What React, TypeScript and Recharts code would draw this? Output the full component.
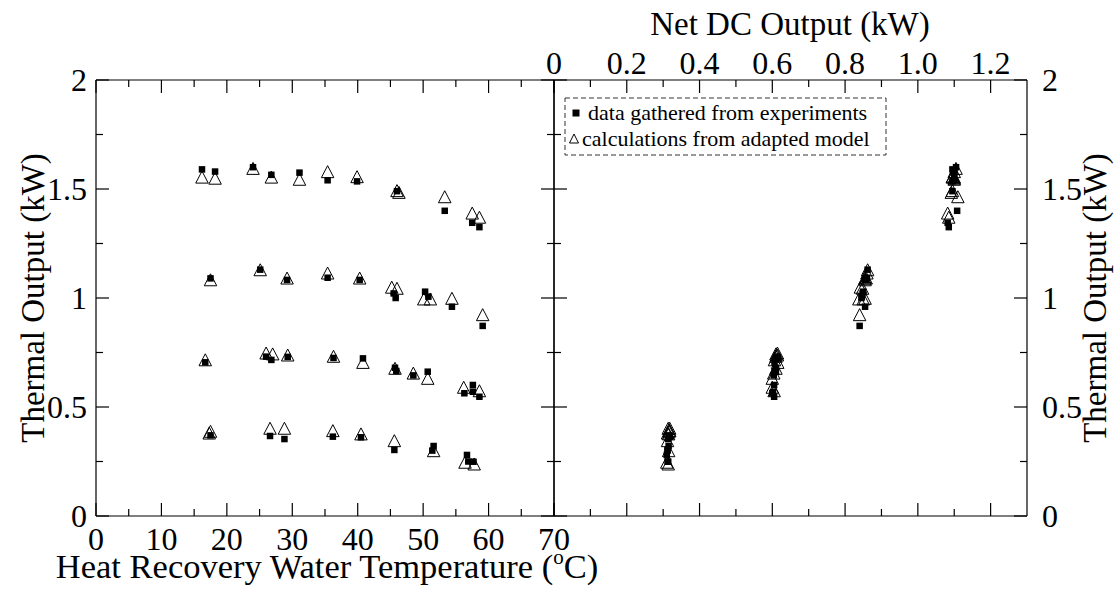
import React from 'react';
import { ScatterChart, Scatter, XAxis, YAxis, ReferenceLine, Legend } from 'recharts';

const FONT = "'Liberation Serif', Tinos, 'Times New Roman', serif";
const TEXT_STYLE = { fontFamily: FONT };

// Experimental runs: water temperature (°C), thermal output (kW), net DC output (kW)
const expTemp = [
  16.2, 18.2, 24.0, 26.8, 31.1, 35.4, 39.9, 46.0, 53.3, 57.5, 58.6,
  17.5, 25.1, 29.2, 35.4, 40.3, 45.5, 45.8, 50.3, 50.8, 54.4, 59.1,
  16.7, 26.0, 26.8, 29.3, 36.3, 40.8, 45.7, 45.9, 48.5, 50.7, 56.3, 57.6, 57.6, 58.6,
  17.5, 26.6, 28.8, 36.2, 40.5, 45.6, 51.6, 51.4, 56.7, 56.9, 57.7,
];
const expThermal = [
  1.59, 1.58, 1.6, 1.565, 1.575, 1.54, 1.535, 1.49, 1.4, 1.345, 1.325,
  1.09, 1.13, 1.083, 1.093, 1.083, 1.021, 1.0, 1.029, 1.006, 0.96, 0.872,
  0.705, 0.731, 0.716, 0.73, 0.725, 0.723, 0.68, 0.665, 0.645, 0.662, 0.563, 0.601, 0.57, 0.547,
  0.37, 0.367, 0.353, 0.364, 0.361, 0.303, 0.321, 0.3, 0.28, 0.25, 0.249,
];
const expDC = [
  1.095, 1.1, 1.105, 1.1, 1.1, 1.1, 1.095, 1.095, 1.108, 1.082, 1.085,
  0.855, 0.862, 0.858, 0.86, 0.855, 0.848, 0.845, 0.85, 0.846, 0.855, 0.84,
  0.606, 0.612, 0.608, 0.614, 0.61, 0.615, 0.61, 0.606, 0.604, 0.61, 0.6, 0.605, 0.602, 0.605,
  0.316, 0.318, 0.314, 0.318, 0.315, 0.312, 0.315, 0.312, 0.31, 0.312, 0.314,
];

// Adapted-model predictions at the same operating points
const modelTemp = [
  16.2, 18.2, 24.0, 26.8, 31.1, 35.4, 39.9, 46.0, 46.3, 53.3, 57.5, 58.6,
  17.5, 25.1, 29.2, 35.4, 40.3, 45.2, 46.0, 50.1, 51.1, 54.4, 59.1,
  16.7, 26.0, 27.0, 29.3, 36.3, 40.8, 45.7, 48.5, 50.7, 56.2, 58.6,
  17.5, 17.3, 26.6, 28.8, 36.2, 40.5, 45.6, 51.6, 56.4, 57.8,
];
const modelThermal = [
  1.55, 1.545, 1.59, 1.55, 1.54, 1.575, 1.552, 1.488, 1.48, 1.46, 1.385, 1.366,
  1.079, 1.125, 1.087, 1.11, 1.087, 1.045, 1.04, 0.991, 0.991, 0.994, 0.919,
  0.712, 0.743, 0.739, 0.734, 0.728, 0.7, 0.673, 0.651, 0.627, 0.586, 0.57,
  0.384, 0.376, 0.398, 0.398, 0.387, 0.372, 0.341, 0.295, 0.242, 0.234,
];
const modelDC = [
  1.095, 1.1, 1.105, 1.1, 1.1, 1.1, 1.095, 1.095, 1.092, 1.11, 1.082, 1.085,
  0.855, 0.862, 0.858, 0.86, 0.855, 0.842, 0.848, 0.838, 0.85, 0.855, 0.84,
  0.606, 0.614, 0.61, 0.614, 0.61, 0.615, 0.61, 0.604, 0.6, 0.6, 0.605,
  0.316, 0.312, 0.318, 0.314, 0.318, 0.315, 0.312, 0.315, 0.31, 0.314,
];

// Axis ticks
const tempMajor = [0, 10, 20, 30, 40, 50, 60, 70];
const tempLabels = ['0', '10', '20', '30', '40', '50', '60', '70'];
const tempMinor = [5, 15, 25, 35, 45, 55, 65];
const thermalMajor = [0, 0.5, 1, 1.5, 2];
const thermalLabels = ['0', '0.5', '1', '1.5', '2'];
const thermalMinor = [0.25, 0.75, 1.25, 1.75];
const dcMajor = [0, 0.2, 0.4, 0.6, 0.8, 1.0, 1.2];
const dcLabels = ['0', '0.2', '0.4', '0.6', '0.8', '1.0', '1.2'];
const dcMinor = [0.1, 0.3, 0.5, 0.7, 0.9, 1.1];

const expRows = expTemp.map((t, i) => ({ temp: t, thermal: expThermal[i], dc: expDC[i] }));
const modelRows = modelTemp.map((t, i) => ({ temp: t, thermal: modelThermal[i], dc: modelDC[i] }));

// Plot geometry
const PLOT_H = 436;
const LEFT_W = 458;
const RIGHT_W = 473;
const MAJOR = 13;
const MINOR = 7;
const TICK_FONT = 32;
const TITLE_FONT = 33;
const LINE = '#000';

const labelFor = (v: number, majors: number[], labels: string[]) => {
  const i = majors.findIndex((m) => Math.abs(m - v) < 1e-9);
  return i >= 0 ? labels[i] : null;
};

const TempTick = (props: any) => {
  const { x, y, payload } = props;
  const lab = labelFor(payload.value, tempMajor, tempLabels);
  const len = lab !== null ? MAJOR : MINOR;
  return (
    <g>
      <line x1={x} y1={y} x2={x} y2={y - len} stroke={LINE} strokeWidth={1.2} />
      <line x1={x} y1={y - PLOT_H} x2={x} y2={y - PLOT_H + len} stroke={LINE} strokeWidth={1.2} />
      {lab !== null && (
        <text x={x} y={y + 34} textAnchor="middle" style={TEXT_STYLE} fontSize={TICK_FONT} fill="#000">
          {lab}
        </text>
      )}
    </g>
  );
};

const ThermalTickLeft = (props: any) => {
  const { x, y, payload } = props;
  const lab = labelFor(payload.value, thermalMajor, thermalLabels);
  const len = lab !== null ? MAJOR : MINOR;
  return (
    <g>
      <line x1={x} y1={y} x2={x + len} y2={y} stroke={LINE} strokeWidth={1.2} />
      <line x1={x + LEFT_W} y1={y} x2={x + LEFT_W - len} y2={y} stroke={LINE} strokeWidth={1.2} />
      {lab !== null && (
        <text x={x - 9} y={y + 11} textAnchor="end" style={TEXT_STYLE} fontSize={TICK_FONT} fill="#000">
          {lab}
        </text>
      )}
    </g>
  );
};

const DcTick = (props: any) => {
  const { x, y, payload } = props;
  const lab = labelFor(payload.value, dcMajor, dcLabels);
  const len = lab !== null ? MAJOR : MINOR;
  return (
    <g>
      <line x1={x} y1={y} x2={x} y2={y + len} stroke={LINE} strokeWidth={1.2} />
      <line x1={x} y1={y + PLOT_H} x2={x} y2={y + PLOT_H - len} stroke={LINE} strokeWidth={1.2} />
      {lab !== null && (
        <text x={x} y={y - 6} textAnchor="middle" style={TEXT_STYLE} fontSize={TICK_FONT} fill="#000">
          {lab}
        </text>
      )}
    </g>
  );
};

const ThermalTickRight = (props: any) => {
  const { x, y, payload } = props;
  const lab = labelFor(payload.value, thermalMajor, thermalLabels);
  const len = lab !== null ? MAJOR : MINOR;
  return (
    <g>
      <line x1={x} y1={y} x2={x - len} y2={y} stroke={LINE} strokeWidth={1.2} />
      <line x1={x - RIGHT_W} y1={y} x2={x - RIGHT_W + len} y2={y} stroke={LINE} strokeWidth={1.2} />
      {lab !== null && (
        <text x={x + 15} y={y + 11} textAnchor="start" style={TEXT_STYLE} fontSize={TICK_FONT} fill="#000">
          {lab}
        </text>
      )}
    </g>
  );
};

const Square = (props: any) => {
  const { cx, cy } = props;
  return <rect x={cx - 3.25} y={cy - 3.25} width={6.5} height={6.5} fill="#000" />;
};

const Triangle = (props: any) => {
  const { cx, cy } = props;
  return (
    <polygon
      points={`${cx},${cy - 7} ${cx - 6.25},${cy + 5} ${cx + 6.25},${cy + 5}`}
      fill="none"
      stroke="#000"
      strokeWidth={1}
    />
  );
};

const LegendBox = () => (
  <svg width={324} height={60} style={{ display: 'block' }}>
    <rect x={1} y={1} width={321} height={57} fill="#fff" stroke="#333" strokeWidth={1} strokeDasharray="5 3" />
    <rect x={8.5} y={12.5} width={7} height={7} fill="#000" />
    <text x={24} y={23} style={TEXT_STYLE} fontSize={22} fill="#000">
      data gathered from experiments
    </text>
    <polygon points="10,37 5.5,46 14.5,46" fill="none" stroke="#000" strokeWidth={1} />
    <text x={18} y={49} style={TEXT_STYLE} fontSize={22} fill="#000">
      calculations from adapted model
    </text>
  </svg>
);

export default function App() {
  return (
    <div
      style={{
        position: 'absolute',
        left: 0,
        top: 0,
        width: 1115,
        height: 591,
        background: '#fff',
        fontFamily: FONT,
      }}
    >
      {/* Thermal output against heat recovery water temperature */}
      <div style={{ position: 'absolute', left: 0, top: 0 }}>
        <ScatterChart width={600} height={591} margin={{ top: 80, right: 46, bottom: 0, left: 0 }}>
          <XAxis
            type="number"
            dataKey="temp"
            domain={[0, 70]}
            ticks={[...tempMajor, ...tempMinor]}
            interval={0}
            height={75}
            tickSize={0}
            tickMargin={0}
            tickLine={false}
            axisLine={{ stroke: LINE, strokeWidth: 1.2 }}
            tick={(p: any) => <TempTick {...p} />}
            allowDataOverflow
            label={() => (
              <text x={327} y={578} textAnchor="middle" style={TEXT_STYLE} fontSize={34.5} fill="#000">
                Heat Recovery Water Temperature (
                <tspan dy={-14} fontSize={21}>o</tspan>
                <tspan dy={14}>C)</tspan>
              </text>
            )}
          />
          <YAxis
            type="number"
            dataKey="thermal"
            domain={[0, 2]}
            ticks={[...thermalMajor, ...thermalMinor]}
            interval={0}
            width={96}
            tickSize={0}
            tickMargin={0}
            tickLine={false}
            axisLine={{ stroke: LINE, strokeWidth: 1.2 }}
            tick={(p: any) => <ThermalTickLeft {...p} />}
            allowDataOverflow
            label={() => (
              <text
                x={44}
                y={298}
                transform="rotate(-90 44 298)"
                textAnchor="middle"
                style={TEXT_STYLE}
                fontSize={TITLE_FONT}
                fill="#000"
              >
                Thermal Output (kW)
              </text>
            )}
          />
          <ReferenceLine y={2} stroke={LINE} strokeWidth={1.2} />
          <ReferenceLine x={70} stroke={LINE} strokeWidth={1.2} />
          <Scatter data={modelRows} isAnimationActive={false} shape={(p: any) => <Triangle {...p} />} />
          <Scatter data={expRows} isAnimationActive={false} shape={(p: any) => <Square {...p} />} />
        </ScatterChart>
      </div>

      {/* Thermal output against net DC output */}
      <div style={{ position: 'absolute', left: 500, top: 0 }}>
        <ScatterChart width={615} height={591} margin={{ top: 0, right: 0, bottom: 75, left: 54 }}>
          <XAxis
            type="number"
            dataKey="dc"
            orientation="top"
            domain={[0, 1.3]}
            ticks={[...dcMajor, ...dcMinor]}
            interval={0}
            height={80}
            tickSize={0}
            tickMargin={0}
            tickLine={false}
            axisLine={{ stroke: LINE, strokeWidth: 1.2 }}
            tick={(p: any) => <DcTick {...p} />}
            allowDataOverflow
            label={() => (
              <text x={290} y={35} textAnchor="middle" style={TEXT_STYLE} fontSize={TITLE_FONT} fill="#000">
                Net DC Output (kW)
              </text>
            )}
          />
          <YAxis
            type="number"
            dataKey="thermal"
            orientation="right"
            domain={[0, 2]}
            ticks={[...thermalMajor, ...thermalMinor]}
            interval={0}
            width={88}
            tickSize={0}
            tickMargin={0}
            tickLine={false}
            axisLine={{ stroke: LINE, strokeWidth: 1.2 }}
            tick={(p: any) => <ThermalTickRight {...p} />}
            allowDataOverflow
            label={() => (
              <text
                x={606}
                y={298}
                transform="rotate(-90 606 298)"
                textAnchor="middle"
                style={TEXT_STYLE}
                fontSize={TITLE_FONT}
                fill="#000"
              >
                Thermal Output (kW)
              </text>
            )}
          />
          <ReferenceLine y={0} stroke={LINE} strokeWidth={1.2} />
          <ReferenceLine x={0} stroke={LINE} strokeWidth={1.2} />
          <Legend
            layout="horizontal"
            verticalAlign="middle"
            align="center"
            wrapperStyle={{ left: 64, top: 97, width: 324, height: 60 }}
            content={() => <LegendBox />}
          />
          <Scatter data={modelRows} isAnimationActive={false} shape={(p: any) => <Triangle {...p} />} />
          <Scatter data={expRows} isAnimationActive={false} shape={(p: any) => <Square {...p} />} />
        </ScatterChart>
      </div>
    </div>
  );
}
